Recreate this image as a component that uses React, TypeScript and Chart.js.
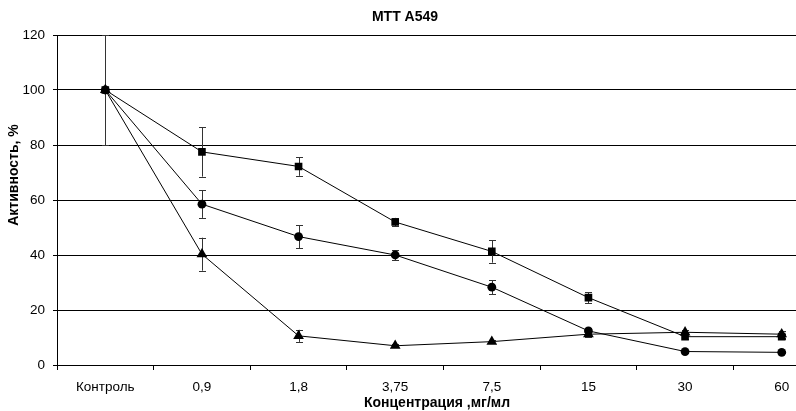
import React, { useEffect, useRef } from "react";
import { Chart, registerables } from "chart.js";

Chart.register(...registerables);

const categories = ["Контроль", "0,9", "1,8", "3,75", "7,5", "15", "30", "60"];
const squareValues = [100, 77.5, 72.2, 52.0, 41.3, 24.5, 10.3, 10.3];
const squareErrors = [0, 9, 3.4, 1.5, 4.1, 2, 0.8, 0.8];
const circleValues = [100, 58.5, 46.7, 40.0, 28.3, 12.4, 4.9, 4.6];
const circleErrors = [20, 5, 4.2, 1.8, 2.5, 1, 0.4, 0.4];
const triangleValues = [100, 40.3, 10.6, 7.0, 8.5, 11.2, 11.9, 11.2];
const triangleErrors = [0, 6, 2.2, 0.6, 0.6, 1, 0.8, 1.3];
const yTicks = [0, 20, 40, 60, 80, 100, 120];

const chartTitle = "MTT A549";
const xTitle = "Концентрация ,мг/мл";
const yTitle = "Активность, %";

const FONT = "'Liberation Sans', Arial, sans-serif";

const errorBarPlugin = {
  id: "errorBars",
  beforeDatasetsDraw(chart: any) {
    const ctx = chart.ctx;
    const yScale = chart.scales.y;
    ctx.save();
    ctx.strokeStyle = "#333";
    ctx.lineWidth = 1;
    chart.data.datasets.forEach((ds: any, di: number) => {
      const meta = chart.getDatasetMeta(di);
      const errs: number[] = ds.errors || [];
      meta.data.forEach((pt: any, i: number) => {
        const e = errs[i];
        if (!e) return;
        const v = ds.data[i];
        const x = Math.round(pt.x) + 0.5;
        const yTop = yScale.getPixelForValue(Math.min(v + e, yScale.max));
        const yBot = yScale.getPixelForValue(v - e);
        const cap = 3.5;
        ctx.beginPath();
        ctx.moveTo(x, yTop);
        ctx.lineTo(x, yBot);
        ctx.moveTo(x - cap, Math.round(yTop) + 0.5);
        ctx.lineTo(x + cap, Math.round(yTop) + 0.5);
        ctx.moveTo(x - cap, Math.round(yBot) + 0.5);
        ctx.lineTo(x + cap, Math.round(yBot) + 0.5);
        ctx.stroke();
      });
    });
    ctx.restore();
  },
};

const titlesPlugin = {
  id: "customTitles",
  afterDraw(chart: any) {
    const ctx = chart.ctx;
    ctx.save();
    ctx.fillStyle = "#000";
    ctx.textAlign = "center";
    ctx.textBaseline = "middle";
    ctx.font = `bold 14px ${FONT}`;
    ctx.fillText(chartTitle, 405, 17);
    ctx.fillText(xTitle, 437, 403);
    ctx.translate(14, 175);
    ctx.rotate(-Math.PI / 2);
    ctx.fillText(yTitle, 0, 0);
    ctx.restore();
  },
};

export default function App() {
  const canvasRef = useRef<HTMLCanvasElement | null>(null);

  useEffect(() => {
    if (!canvasRef.current) return;
    const lineDs = (data: number[], errors: number[], style: any, radius: number) => ({
      data,
      errors,
      borderColor: "#000",
      backgroundColor: "#000",
      borderWidth: 1,
      pointStyle: style,
      pointRadius: radius,
      pointBorderWidth: 0,
      pointBackgroundColor: "#000",
      pointBorderColor: "#000",
      tension: 0,
      fill: false,
    });
    const chart = new Chart(canvasRef.current, {
      type: "line",
      data: {
        labels: categories,
        datasets: [
          lineDs(circleValues, circleErrors, "circle", 4.4),
          lineDs(squareValues, squareErrors, "rect", 5.4),
          lineDs(triangleValues, triangleErrors, "triangle", 6.2),
        ] as any,
      },
      options: {
        animation: false,
        responsive: false,
        events: [],
        layout: { padding: { top: 35, left: 0, right: 10, bottom: 0 } },
        plugins: {
          legend: { display: false },
          title: { display: false },
          tooltip: { enabled: false },
        },
        scales: {
          x: {
            type: "category",
            offset: true,
            afterFit: (s: any) => {
              s.height = 46;
            },
            grid: {
              display: true,
              offset: true,
              drawOnChartArea: false,
              drawTicks: true,
              tickLength: 5,
              color: "#000",
            },
            border: { display: true, color: "#000", width: 1 },
            ticks: {
              color: "#000",
              font: { family: FONT, size: 13.5 },
              padding: 9,
              maxRotation: 0,
              autoSkip: false,
            },
          },
          y: {
            min: 0,
            max: 120,
            afterFit: (s: any) => {
              s.width = 57;
            },
            afterBuildTicks: (s: any) => {
              s.ticks = yTicks.map((v) => ({ value: v }));
            },
            grid: {
              display: true,
              color: "#000",
              lineWidth: 1,
              drawTicks: true,
              tickLength: 4,
            },
            border: { display: true, color: "#000", width: 1 },
            ticks: {
              color: "#000",
              font: { family: FONT, size: 13.5 },
              padding: 8,
            },
          },
        },
      },
      plugins: [errorBarPlugin, titlesPlugin],
    });
    return () => chart.destroy();
  }, []);

  return (
    <div
      style={{
        position: "fixed",
        left: 0,
        top: 0,
        width: 796,
        height: 411,
        overflow: "hidden",
        background: "#fff",
      }}
    >
      <canvas ref={canvasRef} width={840} height={411} style={{ display: "block" }} />
    </div>
  );
}
